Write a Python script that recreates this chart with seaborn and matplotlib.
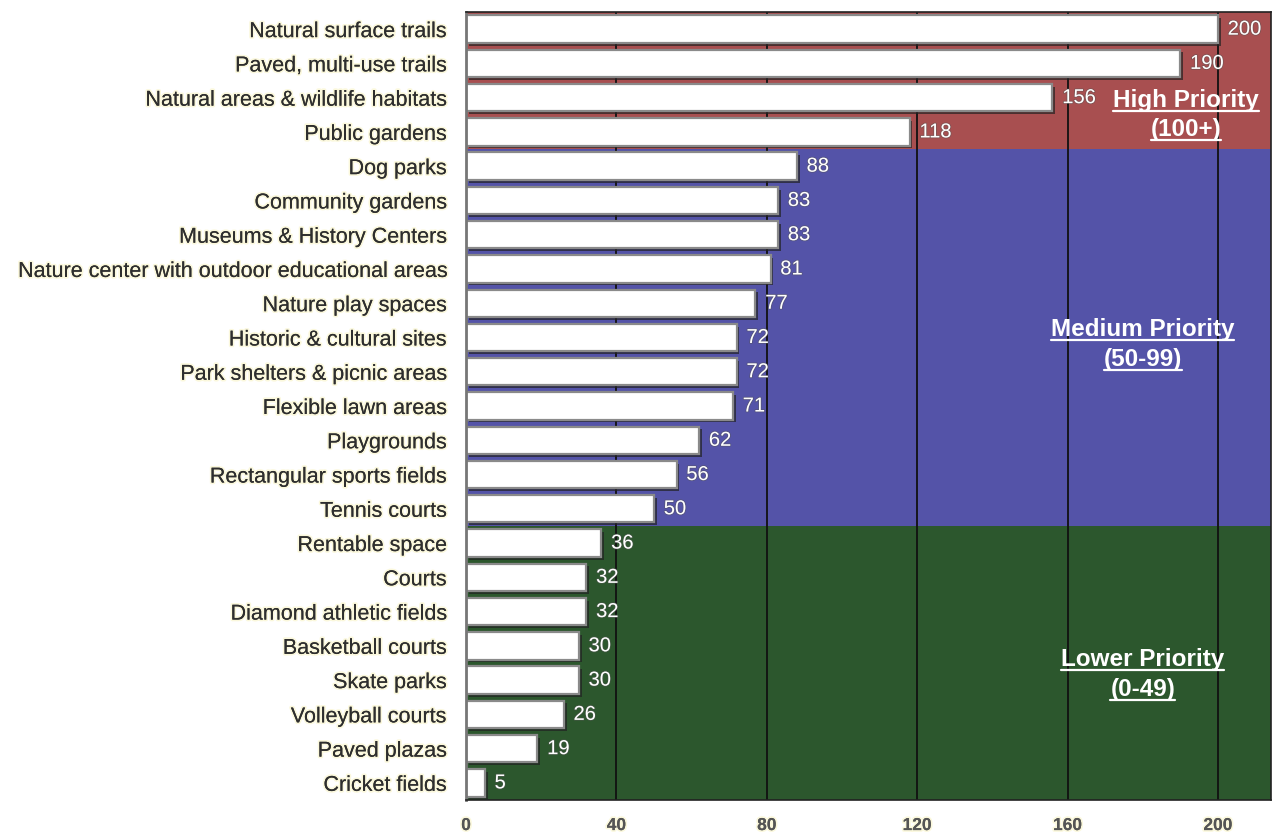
import matplotlib
matplotlib.use("Agg")
import matplotlib.pyplot as plt
import matplotlib.patheffects as pe
from matplotlib.lines import Line2D
import seaborn as sns
import pandas as pd

categories = [
    "Natural surface trails", "Paved, multi-use trails", "Natural areas & wildlife habitats",
    "Public gardens", "Dog parks", "Community gardens", "Museums & History Centers",
    "Nature center with outdoor educational areas", "Nature play spaces",
    "Historic & cultural sites", "Park shelters & picnic areas", "Flexible lawn areas",
    "Playgrounds", "Rectangular sports fields", "Tennis courts", "Rentable space", "Courts",
    "Diamond athletic fields", "Basketball courts", "Skate parks", "Volleyball courts",
    "Paved plazas", "Cricket fields",
]
values = [200, 190, 156, 118, 88, 83, 83, 81, 77, 72, 72, 71, 62, 56, 50, 36, 32, 32, 30, 30, 26, 19, 5]
x_ticks = [0, 40, 80, 120, 160, 200]
group_names = ["High Priority", "Medium Priority", "Lower Priority"]
group_ranges = ["(100+)", "(50-99)", "(0-49)"]
group_sizes = [4, 11, 8]
group_colors = ["#A84F50", "#5453A8", "#2C572D"]

sns.set_theme(style="white")
plt.rcParams["font.family"] = ["Liberation Sans", "DejaVu Sans"]

df = pd.DataFrame({"category": categories, "value": values})

fig = plt.figure(figsize=(12.75, 8.33), dpi=100)
ax = fig.add_axes([0.3655, 0.0396, 0.9965 - 0.3655, 0.9856 - 0.0396])

# background bands
start = -0.5
for size, col in zip(group_sizes, group_colors):
    ax.axhspan(start, start + size, color=col, zorder=0, lw=0)
    start += size

# gridlines
for t in x_ticks[1:]:
    ax.axvline(t, color="#111111", lw=1.3, zorder=0.8)

sns.barplot(data=df, x="value", y="category", orient="h", color="white",
            edgecolor="#8a8a8a", linewidth=1.6, width=0.8, saturation=1, ax=ax, zorder=2)
for p in ax.patches:
    p.set_path_effects([pe.SimplePatchShadow(offset=(2, -2), shadow_rgbFace="#222222", alpha=0.7), pe.Normal()])

for i, v in enumerate(values):
    ax.text(v + 2.6, i, str(v), color="white", fontsize=14.5, va="center", ha="left", zorder=5,
            path_effects=[pe.withStroke(linewidth=1.2, foreground="#555555", alpha=0.5)])

ax.set_xlim(0, 214)
ax.set_ylim(len(categories) - 0.5, -0.5)
ax.set_xticks(x_ticks)
ax.set_xlabel("")
ax.set_ylabel("")
ax.tick_params(axis="x", length=0, pad=13, labelsize=12.5, colors="#555555")
ax.tick_params(axis="y", length=0, pad=14, labelsize=15.5, colors="#2e2e2e")
for lab in ax.get_xticklabels():
    lab.set_fontweight("bold")
for lab in ax.get_yticklabels() + ax.get_xticklabels():
    lab.set_path_effects([pe.withStroke(linewidth=2.5, foreground="#fbf8dc"), pe.Normal()])

for s in ["top", "right", "bottom"]:
    ax.spines[s].set_visible(True)
    ax.spines[s].set_color("#222222")
    ax.spines[s].set_linewidth(1.2)
ax.spines["left"].set_color("#777777")
ax.spines["left"].set_linewidth(2)

# priority labels
label_x = [191.5, 180, 180]
label_y = [(2.07, 2.94), (8.78, 9.65), (18.4, 19.28)]
texts = []
for name, rng, xx, (y1, y2) in zip(group_names, group_ranges, label_x, label_y):
    t1 = ax.text(xx, y1, name, color="white", fontsize=17.5, fontweight="bold",
                 ha="center", va="center", zorder=6)
    t2 = ax.text(xx, y2, rng, color="white", fontsize=17.5, fontweight="bold",
                 ha="center", va="center", zorder=6)
    texts += [t1, t2]

fig.canvas.draw()
renderer = fig.canvas.get_renderer()
for t in texts:
    bb = t.get_window_extent(renderer)
    y = bb.y0 + 1
    fig.add_artist(Line2D([bb.x0, bb.x1], [y, y], transform=None, color="white", lw=1.6))

fig.savefig("out.png", dpi=100)
